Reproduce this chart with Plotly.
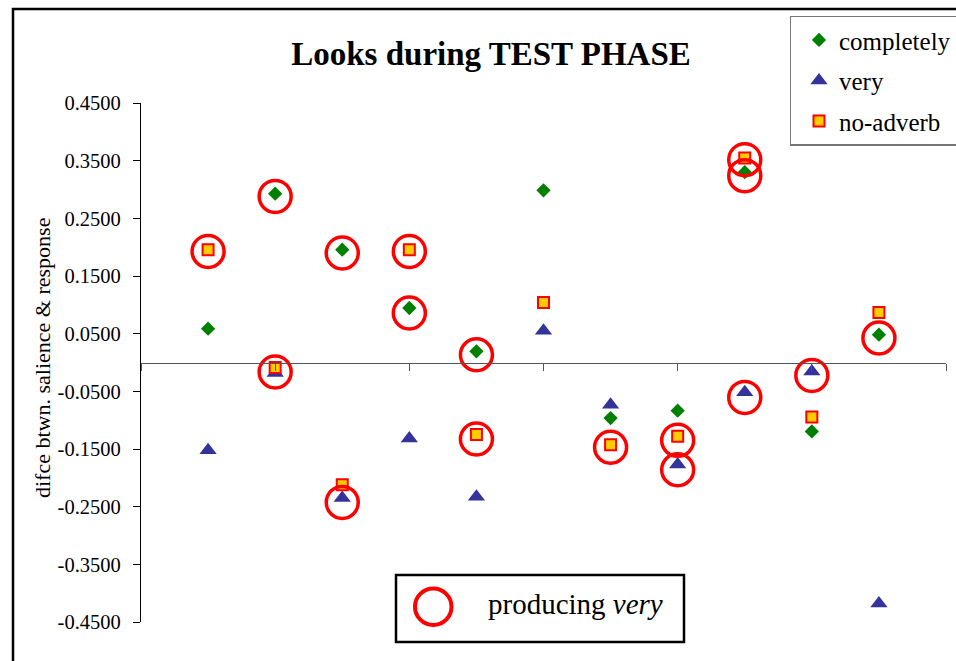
import plotly.graph_objects as go

# ---- data ----
items = [1, 2, 3, 4, 5, 6, 7, 8, 9, 10, 11]
completely = [0.0586, 0.2927, 0.1956, 0.0945, 0.0193, 0.2985, -0.0963, -0.0836, 0.3300, -0.1195, 0.0482]
very = [-0.152, -0.018, -0.235, -0.132, -0.233, 0.055, -0.0732, -0.177, -0.0518, -0.0154, -0.418]
no_adverb = [0.1956, -0.0085, -0.212, 0.1956, -0.125, 0.1042, -0.1425, -0.128, 0.3546, -0.0945, 0.0869]

# circled points ("producing very")
circ_x = [1, 2, 2, 3, 3, 4, 4, 5, 5, 7, 8, 8, 9, 9, 9, 10, 11]
circ_y = [0.1926, 0.288, -0.0165, 0.190, -0.2426, 0.1926, 0.0858, 0.0135, -0.1327,
          -0.147, -0.135, -0.186, 0.3517, 0.324, -0.0605, -0.0224, 0.0425]

y_ticks = [0.45, 0.35, 0.25, 0.15, 0.05, -0.05, -0.15, -0.25, -0.35, -0.45]
y_tick_text = ["0.4500", "0.3500", "0.2500", "0.1500", "0.0500",
               "-0.0500", "-0.1500", "-0.2500", "-0.3500", "-0.4500"]

title = "Looks during TEST PHASE"
y_title = "difce btwn. salience &amp; response"

FONT = "Liberation Serif"
W, H = 956, 661
ML, MR, MT, MB = 141, 10, 103, 39
PW, PH = W - ML - MR, H - MT - MB


def px(x):
    return (x - ML) / PW


def py(y):
    return (H - MB - y) / PH


fig = go.Figure()

fig.add_trace(go.Scatter(
    x=items, y=completely, mode="markers", name="completely", legendgroup="a",
    marker=dict(symbol="diamond", size=11, color="#008000"),
))
fig.add_trace(go.Scatter(
    x=items, y=very, mode="markers", name="very", legendgroup="b",
    marker=dict(symbol="triangle-up", size=15, color="#333399"),
))
fig.add_trace(go.Scatter(
    x=items, y=no_adverb, mode="markers", name="no-adverb", legendgroup="c",
    marker=dict(symbol="square", size=11, color="#FFCC00", line=dict(color="#FF0000", width=2)),
))
fig.add_trace(go.Scatter(
    x=circ_x, y=circ_y, mode="markers", name="producing very", showlegend=False,
    marker=dict(symbol="circle-open", size=32, color="#FF0000", line=dict(color="#FF0000", width=3.5)),
))

shapes = [
    # outer chart frame
    dict(type="rect", xref="paper", yref="paper", x0=px(13), x1=px(990), y0=py(9), y1=py(700),
         line=dict(color="black", width=2.5), layer="below"),
    # "producing very" box
    dict(type="rect", xref="paper", yref="paper", x0=px(396), x1=px(684), y0=py(575), y1=py(642),
         line=dict(color="black", width=2.5), fillcolor="white"),
    dict(type="circle", xref="paper", yref="paper", x0=px(415), x1=px(451.5), y0=py(588.5), y1=py(625),
         line=dict(color="#FF0000", width=4)),
]

annotations = [
    dict(text="producing <i>very</i>", xref="paper", yref="paper", x=px(486), y=py(604),
         xanchor="left", yanchor="middle", showarrow=False,
         font=dict(family=FONT, size=29, color="black")),
    dict(text=y_title, xref="paper", yref="paper", x=px(42), y=py(358),
         xanchor="center", yanchor="middle", textangle=-90, showarrow=False,
         font=dict(family=FONT, size=22, color="black")),
]

fig.update_layout(
    width=W, height=H,
    margin=dict(l=ML, r=MR, t=MT, b=MB, autoexpand=False),
    paper_bgcolor="white", plot_bgcolor="white",
    font=dict(family=FONT, color="black"),
    title=dict(text="<b>" + title + "</b>", x=491 / W, xref="container", xanchor="center",
               y=1 - 53 / H, yref="container", yanchor="middle",
               font=dict(family=FONT, size=33, color="black")),
    xaxis=dict(range=[0, 12], tick0=0, dtick=2, showticklabels=False, ticks="outside", ticklen=7,
               tickcolor="#555555", showline=True, linecolor="#555555", linewidth=1.2,
               showgrid=False, zeroline=False, anchor="free", position=0.5),
    yaxis=dict(range=[-0.45, 0.45], tickvals=y_ticks, ticktext=y_tick_text, ticks="outside",
               ticklen=7, tickcolor="black", showline=True, linecolor="black", linewidth=1.2,
               showgrid=False, zeroline=False, ticklabelstandoff=8,
               tickfont=dict(family=FONT, size=20.5, color="black")),
    showlegend=True,
    legend=dict(x=px(789.5), y=py(15.7), xanchor="left", yanchor="top",
                bordercolor="#777777", borderwidth=1.5, bgcolor="white",
                font=dict(family=FONT, size=25, color="black"),
                traceorder="grouped", tracegroupgap=5, indentation=8),
    shapes=shapes,
    annotations=annotations,
)

fig.write_html("out.html")
